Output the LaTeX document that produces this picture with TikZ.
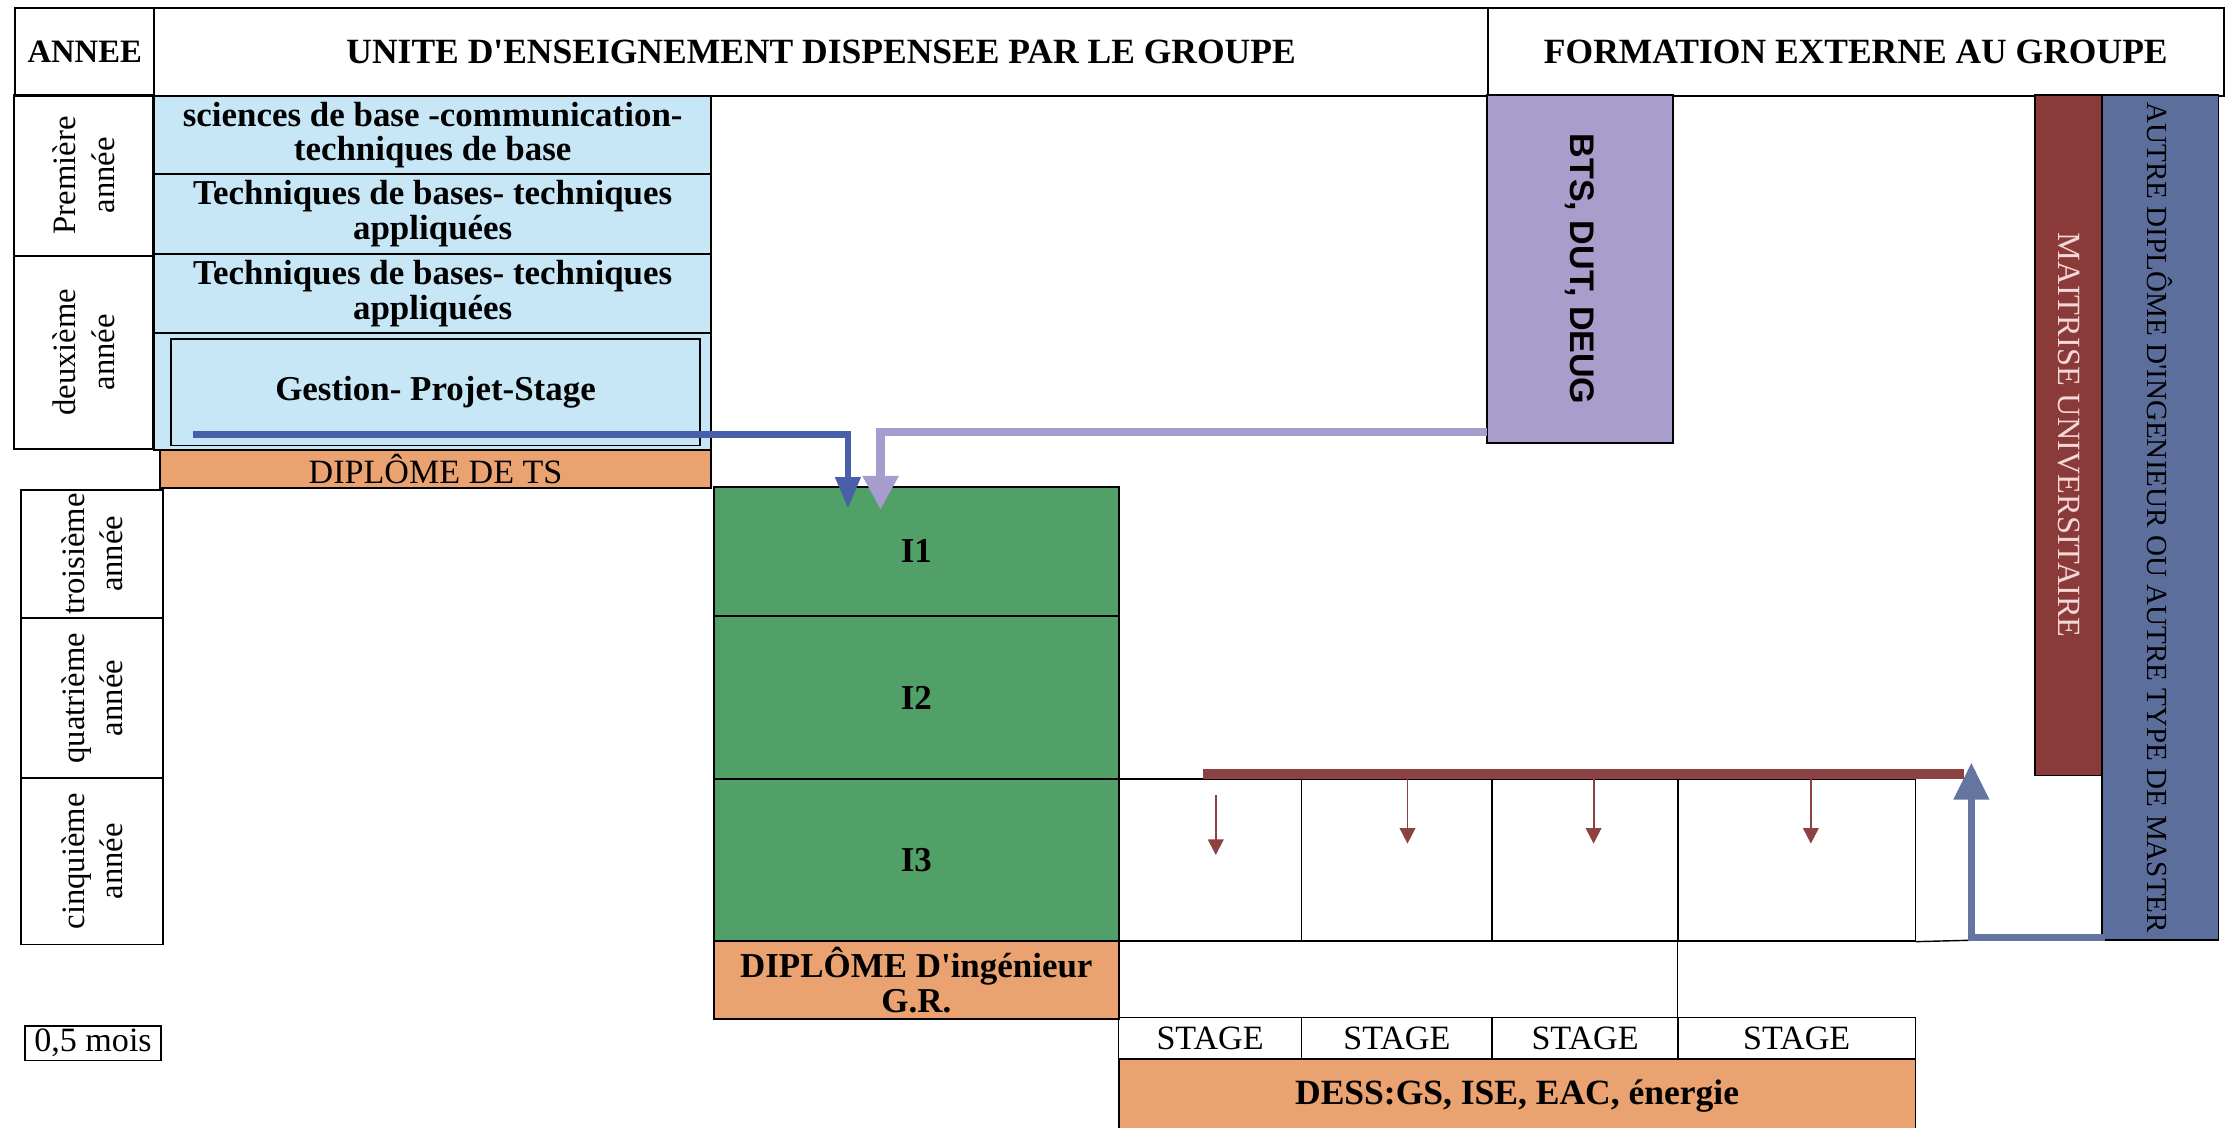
\documentclass[tikz,border=0pt]{standalone}
\usepackage{fontspec}
\setmainfont{Liberation Serif}
\newfontfamily\arialfont{Liberation Sans}
\usetikzlibrary{arrows.meta,calc}
\definecolor{lblue}{RGB}{199,231,247}
\definecolor{orng}{RGB}{233,162,112}
\definecolor{grn}{RGB}{80,160,104}
\definecolor{btsc}{RGB}{169,157,204}
\definecolor{mred}{RGB}{139,58,58}
\definecolor{slatec}{RGB}{91,110,156}
\definecolor{dblue}{RGB}{72,96,170}
\definecolor{lpurp}{RGB}{166,156,206}
\definecolor{rbar}{RGB}{140,66,66}
\definecolor{sarr}{RGB}{102,116,160}
\definecolor{pinkt}{RGB}{245,215,215}
\newcommand\hdfont{\fontsize{25}{27}\selectfont\bfseries}
\newcommand\rgfont{\fontsize{24}{25}\selectfont}
\newcommand\yrfont{\fontsize{23}{27}\selectfont}
\newcommand\bdfont{\fontsize{24.6}{24.5}\selectfont\bfseries}
\begin{document}
\begin{tikzpicture}[x=1pt,y=-1pt,
  cell/.style={draw=black, line width=1.3pt, anchor=north west, inner sep=0pt, align=center},
  rcell/.style={draw=black, line width=1.3pt, anchor=center, inner sep=0pt, align=center},
  thin/.style={draw=black, line width=1pt},
  redarr/.style={draw=rbar, line width=1.3pt, -{Triangle[length=11pt,width=11pt]}},
]
\useasboundingbox (0,0) rectangle (1568,794);
% header
\node[cell, minimum width=98, minimum height=62, font=\fontsize{23}{25}\selectfont\bfseries] (annee) at (10,5) {ANNEE};
\node[cell, minimum width=939, minimum height=62, font=\hdfont] (unite) at (108,5) {UNITE D\textquotesingle ENSEIGNEMENT DISPENSEE PAR LE GROUPE};
\node[cell, minimum width=518, minimum height=62, font=\hdfont] (formext) at (1047,5) {FORMATION EXTERNE AU GROUPE};
% left column (top)
\node[rcell, rotate=90, minimum width=113, minimum height=98, font=\yrfont] (prem) at (59,123.5) {Première\\année};
\node[rcell, rotate=90, minimum width=136, minimum height=98, font=\yrfont] (deux) at (59,248) {deuxième\\année};
% blue column
\node[cell, fill=lblue, minimum width=392, minimum height=55, font=\bdfont] (b1) at (108,67) {sciences de base -communication-\\techniques de base};
\node[cell, fill=lblue, minimum width=392, minimum height=56, font=\bdfont] (b2) at (108,122) {Techniques de bases- techniques\\appliquées};
\node[cell, fill=lblue, minimum width=392, minimum height=56, font=\bdfont] (b3) at (108,178) {Techniques de bases- techniques\\appliquées};
\node[cell, fill=lblue, minimum width=392, minimum height=82] (gout) at (108,234) {};
\node[cell, minimum width=372, minimum height=75, font=\bdfont] (gest) at (120,238) {Gestion- Projet-Stage};
\node[cell, fill=orng, minimum width=388, minimum height=27, font=\rgfont] (dts) at (112,316) {DIPLÔME DE TS};
% left column (bottom)
\node[rcell, rotate=90, minimum width=90, minimum height=100, font=\yrfont] (trois) at (65,390) {troisième\\année};
\node[rcell, rotate=90, minimum width=113, minimum height=100, font=\yrfont] (quat) at (65,491.5) {quatrième\\année};
\node[rcell, rotate=90, minimum width=117, minimum height=100, font=\yrfont] (cinq) at (65,606.5) {cinquième\\année};
\node[cell, line width=1pt, minimum width=96, minimum height=24, font=\rgfont] (mois) at (17,722) {0,5 mois};
% green
\node[cell, fill=grn, minimum width=285, minimum height=91, font=\bdfont] (i1) at (502,342) {I1};
\node[cell, fill=grn, minimum width=285, minimum height=115, font=\bdfont] (i2) at (502,433) {I2};
\node[cell, fill=grn, minimum width=285, minimum height=114, font=\bdfont] (i3) at (502,548) {I3};
\node[cell, fill=orng, minimum width=285, minimum height=55, font=\bdfont] (dipi) at (502,662) {DIPLÔME D\textquotesingle ingénieur\\G.R.};
% external
\node[rcell, rotate=-90, fill=btsc, minimum width=245, minimum height=131, font=\fontsize{24}{26}\selectfont\arialfont\bfseries] (bts) at (1112.5,189.5) {BTS, DUT, DEUG};
\node[rcell, rotate=-90, fill=mred, text=pinkt, minimum width=479, minimum height=47, font=\fontsize{22.8}{24}\selectfont] (mait) at (1456.5,306.5) {MAITRISE UNIVERSITAIRE};
\node[rcell, rotate=-90, fill=slatec, minimum width=595, minimum height=82, font=\fontsize{20.5}{22}\selectfont] (autre) at (1521,364.5) {AUTRE DIPLÔME D\textquotesingle INGENIEUR OU AUTRE TYPE DE MASTER};
% stage grid
\node[cell, line width=1pt, minimum width=129, minimum height=114] (c1) at (787,548) {};
\node[cell, line width=1pt, minimum width=134, minimum height=114] (c2) at (916,548) {};
\node[cell, line width=1pt, minimum width=131, minimum height=114] (c3) at (1050,548) {};
\node[cell, line width=1pt, minimum width=167, minimum height=114] (c4) at (1181,548) {};
\coordinate (gridTR) at (1383,548);
\coordinate (gridBR) at (1388,662);
\draw[thin] (c4.north east) -- (gridTR);
\draw[thin] (c4.south east) -- (gridBR);
\node[cell, line width=1pt, minimum width=129, minimum height=29, font=\rgfont] (st1) at (787,716) {STAGE};
\node[cell, line width=1pt, minimum width=134, minimum height=29, font=\rgfont] (st2) at (916,716) {STAGE};
\node[cell, line width=1pt, minimum width=131, minimum height=29, font=\rgfont] (st3) at (1050,716) {STAGE};
\node[cell, line width=1pt, minimum width=167, minimum height=29, font=\rgfont] (st4) at (1181,716) {STAGE};
\draw[thin] (c4.south west) -- (st4.north west);
\node[cell, fill=orng, minimum width=561, minimum height=52, font=\fontsize{25}{26}\selectfont\bfseries] (dess) at (787,745) {DESS:GS, ISE, EAC, énergie};
% red bar and arrows
\coordinate (rb0) at (847,545);
\coordinate (rb1) at (1383,545);
\draw[draw=rbar, line width=6.5pt] (rb0) -- (rb1);
\coordinate (ra1s) at (856,560); \coordinate (ra1e) at (856,602);
\coordinate (ra2s) at (991,548); \coordinate (ra2e) at (991,594);
\coordinate (ra3s) at (1122,548); \coordinate (ra3e) at (1122,594);
\coordinate (ra4s) at (1275,548); \coordinate (ra4e) at (1275,594);
\draw[redarr] (ra1s) -- (ra1e);
\draw[redarr] (ra2s) -- (ra2e);
\draw[redarr] (ra3s) -- (ra3e);
\draw[redarr] (ra4s) -- (ra4e);
% slate arrow
\coordinate (sa0) at (1482,660);
\coordinate (satip) at (1388,537);
\draw[draw=sarr, line width=5pt, -{Triangle[length=26pt,width=24pt]}] (sa0) -| (satip);
% blue arrow
\coordinate (db0) at (136,306);
\draw[draw=dblue, line width=4.5pt, -{Triangle[length=22pt,width=17pt]}] (db0) -| ($(i1.north west)+(95,16)$);
% purple arrow
\coordinate (pa0) at (1047,304);
\draw[draw=lpurp, line width=6pt, -{Triangle[length=24pt,width=24pt]}] (pa0) -| ($(i1.north west)+(118,17)$);
\end{tikzpicture}
\end{document}
